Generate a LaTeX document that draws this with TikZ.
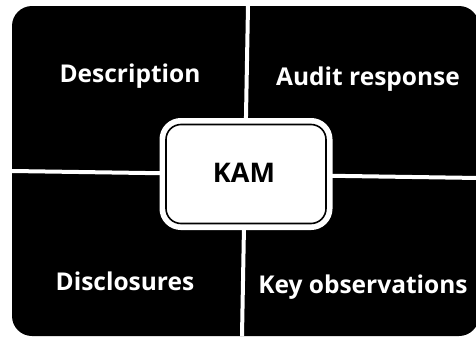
\documentclass[tikz,border=0pt]{standalone}
\usepackage{fontspec}
\setmainfont{Open Sans}
\usepackage{tikz}
\tikzset{
	label/.style={text=white, font=\fontsize{24.5}{28}\selectfont\bfseries, anchor=base, inner sep=0pt},
	divider/.style={white, line width=4pt},
	kambox/.style={draw=black, line width=1.6pt, fill=white, rounded corners=15pt,
		minimum width=160pt, minimum height=99pt,
		preaction={draw=white, line width=13pt}}
}

\begin{document}
\begin{tikzpicture}[x=1pt, y=-1pt]
			%%%%% START %%%%%
			
			\useasboundingbox (0, 0) rectangle (476, 340);
			\clip (0, 0) rectangle (476, 340);
			\fill[white] (0, 0) rectangle (476, 340);
			
			\fill[black, rounded corners=20pt] (12, 6) rectangle (479, 336);
			
			\coordinate (top) at (248, 6);
			\coordinate (bottom) at (242, 336);
			\coordinate (left) at (12, 171);
			\coordinate (right) at (479, 178);
			\draw[divider] (top) -- (bottom);
			\draw[divider] (left) -- (right);
			
			\node[kambox] (kam) at (246, 174) {};
			\node[label, text=black, font=\fontsize{27}{30}\selectfont\bfseries] (kamtext) at (244, 182) {KAM};
			
			\node[label] (description) at (130, 82) {Description};
			\node[label] (audit) at (368, 85) {Audit response};
			\node[label] (disclosures) at (125, 290) {Disclosures};
			\node[label] (keyobs) at (363, 293) {Key observations};
			
			%%%%% END %%%%%
\end{tikzpicture}
\end{document}
